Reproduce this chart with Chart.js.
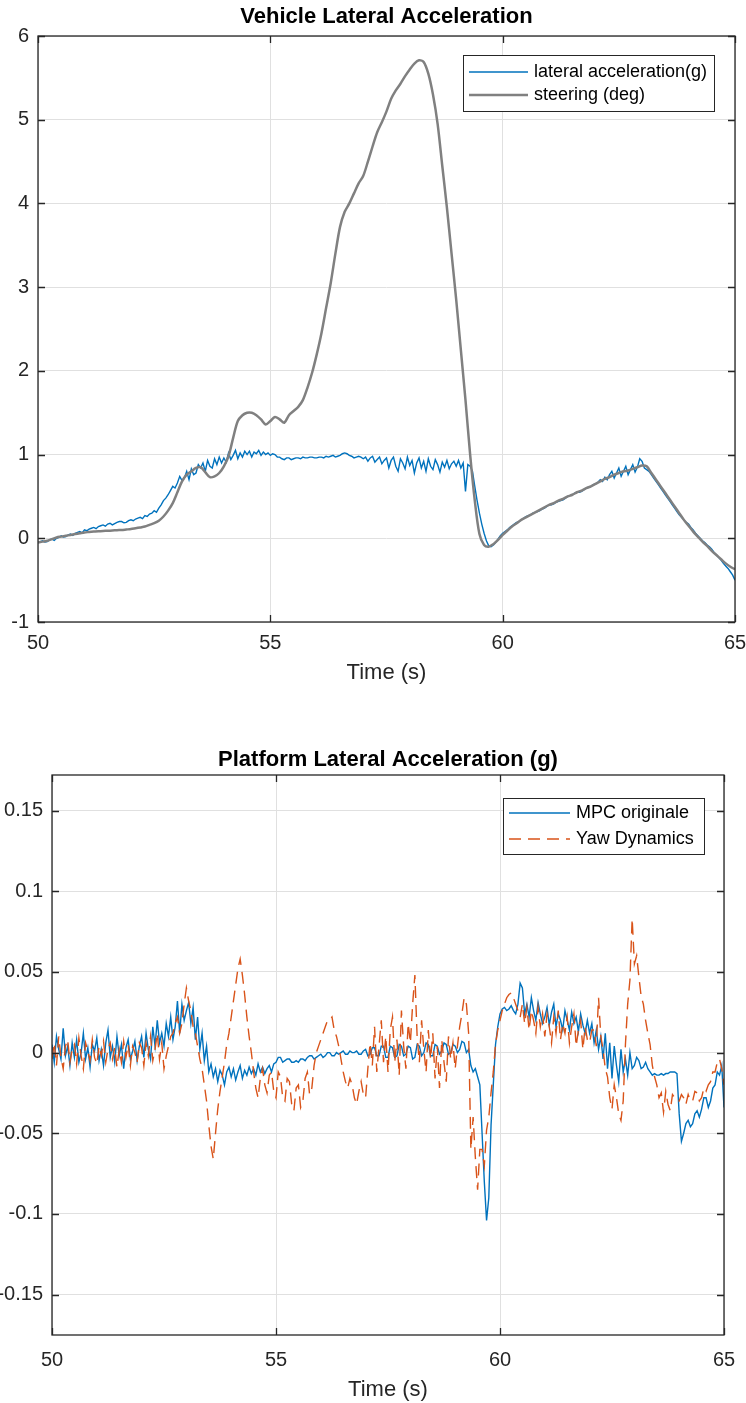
<!DOCTYPE html>
<html>
<head>
<meta charset="utf-8">
<script src="https://cdn.jsdelivr.net/npm/chart.js@4.4.1/dist/chart.umd.min.js"></script>
<style>
  body { margin: 0; background: #fff; }
  #cajaArriba { position: absolute; left: 0; top: 0; width: 746px; height: 700px; }
  #cajaAbajo { position: absolute; left: 0; top: 700px; width: 746px; height: 703px; }
</style>
</head>
<body>
<div id="cajaArriba"><canvas id="graficoArriba" width="746" height="700"></canvas></div>
<div id="cajaAbajo"><canvas id="graficoAbajo" width="746" height="703"></canvas></div>
<script>
// muestreo: las senales con ruido van cada 0.05 s, el volante cada 0.1 s (t = 50 .. 65 s)
const tIni = 50;
const pasoRuido = 0.05;
const pasoVolante = 0.1;

const ticksTiempo = [50, 55, 60, 65];
const ticksArriba = [-1, 0, 1, 2, 3, 4, 5, 6];
const ticksAbajo = [-0.15, -0.1, -0.05, 0, 0.05, 0.1, 0.15];

// grafico de arriba: aceleracion lateral del vehiculo (g), una fila = 0.5 s
const aceleracionLateral = [
  -0.05, -0.04, -0.03, -0.045, -0.04, -0.02, -0.01, -0.025, 0.0, 0.01,
  0.03, 0.015, 0.02, 0.04, 0.05, 0.035, 0.06, 0.07, 0.08, 0.065,
  0.1, 0.09, 0.11, 0.12, 0.13, 0.115, 0.14, 0.15, 0.16, 0.145,
  0.17, 0.18, 0.16, 0.175, 0.19, 0.2, 0.2, 0.185, 0.19, 0.21,
  0.22, 0.21, 0.23, 0.24, 0.25, 0.235, 0.27, 0.26, 0.29, 0.3,
  0.33, 0.31, 0.36, 0.4, 0.45, 0.48, 0.52, 0.57, 0.62, 0.6,
  0.66, 0.74, 0.69, 0.72, 0.8, 0.7, 0.83, 0.76, 0.78, 0.88,
  0.84, 0.9, 0.8, 0.93, 0.86, 0.84, 0.95, 0.88, 0.97, 0.9,
  0.96, 0.91, 1.02, 0.94, 0.99, 1.05, 0.95, 1.02, 0.97, 1.04,
  1.0, 1.04, 0.97, 1.03, 1.01, 1.05, 0.99, 1.03, 1.0, 1.02,
  0.99, 1.01, 1.0, 0.97, 0.97, 0.95, 0.94, 0.96, 0.96, 0.94,
  0.95, 0.96, 0.96, 0.95, 0.97, 0.96, 0.96, 0.97, 0.97, 0.96,
  0.96, 0.97, 0.97, 0.96, 0.98, 0.97, 0.98, 0.99, 0.97, 0.98,
  0.99, 1.01, 1.02, 1.01, 0.99, 0.98, 0.96, 0.97, 0.98, 0.97,
  0.95, 0.97, 0.92, 0.96, 0.98, 0.91, 0.94, 0.97, 0.89, 0.93,
  0.96, 0.84, 0.93, 0.97, 0.86, 0.8, 0.95, 0.9, 0.83, 0.97,
  0.87, 0.93, 0.78, 0.9, 0.96, 0.84, 0.92, 0.8, 0.95, 0.86,
  0.82, 0.94, 0.88, 0.79, 0.91, 0.85, 0.93, 0.83, 0.89, 0.92,
  0.86, 0.93, 0.84, 0.9, 0.56, 0.88, 0.86, 0.8, 0.62, 0.45,
  0.3, 0.17, 0.06, -0.03, -0.09, -0.1, -0.08, -0.05, -0.01, 0.03,
  0.06, 0.08, 0.1, 0.13, 0.15, 0.17, 0.19, 0.2, 0.22, 0.24,
  0.26, 0.27, 0.28, 0.3, 0.31, 0.32, 0.33, 0.35, 0.36, 0.38,
  0.4, 0.4, 0.41, 0.43, 0.44, 0.45, 0.46, 0.48, 0.5, 0.51,
  0.52, 0.54, 0.55, 0.55, 0.56, 0.58, 0.6, 0.61, 0.62, 0.64,
  0.65, 0.67, 0.7, 0.68, 0.73, 0.7, 0.76, 0.8, 0.72, 0.78,
  0.84, 0.74, 0.8, 0.86, 0.76, 0.82, 0.88, 0.79, 0.85, 0.95,
  0.92, 0.84, 0.82, 0.8, 0.76, 0.72, 0.68, 0.64, 0.6, 0.56,
  0.52, 0.48, 0.44, 0.4, 0.36, 0.32, 0.28, 0.25, 0.22, 0.19,
  0.17, 0.13, 0.1, 0.06, 0.03, 0.0, -0.03, -0.05, -0.08, -0.1,
  -0.13, -0.17, -0.2, -0.23, -0.26, -0.3, -0.33, -0.36, -0.4, -0.44,
  -0.5
];

// volante (deg), una fila = 1 s
const volante = [
  -0.05, -0.04, -0.03, -0.01, 0.01, 0.02, 0.03, 0.04, 0.05, 0.06,
  0.07, 0.075, 0.08, 0.085, 0.088, 0.09, 0.093, 0.097, 0.1, 0.105,
  0.11, 0.12, 0.13, 0.14, 0.16, 0.18, 0.21, 0.26, 0.33, 0.42,
  0.55, 0.68, 0.76, 0.8, 0.84, 0.85, 0.79, 0.73, 0.74, 0.78,
  0.86, 0.98, 1.2, 1.4, 1.47, 1.5, 1.5, 1.47, 1.42, 1.36,
  1.4, 1.45, 1.42, 1.38, 1.47, 1.52, 1.57, 1.65, 1.8, 1.98,
  2.2, 2.45, 2.75, 3.05, 3.4, 3.72, 3.9, 4.0, 4.12, 4.24,
  4.33, 4.5, 4.68, 4.85, 4.97, 5.1, 5.25, 5.35, 5.43, 5.52,
  5.6, 5.67, 5.71, 5.69, 5.55, 5.3, 4.95, 4.45, 3.95, 3.4,
  2.85, 2.25, 1.65, 1.0, 0.45, 0.05, -0.08, -0.1, -0.07, -0.02,
  0.04, 0.09, 0.14, 0.18, 0.22, 0.25, 0.28, 0.31, 0.34, 0.37,
  0.4, 0.42, 0.45, 0.47, 0.5, 0.52, 0.55, 0.57, 0.6, 0.62,
  0.65, 0.68, 0.71, 0.73, 0.76, 0.78, 0.8, 0.81, 0.83, 0.85,
  0.87, 0.86, 0.78, 0.7, 0.62, 0.54, 0.46, 0.38, 0.3, 0.22,
  0.15, 0.08, 0.02, -0.04, -0.09, -0.15, -0.2, -0.25, -0.3, -0.34,
  -0.37
];

// grafico de abajo: aceleracion lateral de la plataforma (g), una fila = 0.5 s
const mpcOriginale = [
  0.005, -0.006, 0.01, 0.002, -0.004, 0.015, -0.002, 0.004, -0.008, 0.006,
  -0.003, 0.008, -0.006, 0.0, 0.012, -0.004, 0.003, -0.009, 0.005, 0.001,
  0.009, -0.005, 0.002, -0.008, 0.006, 0.014, -0.003, 0.004, -0.006, 0.01,
  -0.002, 0.005, -0.01, 0.003, 0.008, -0.004, 0.001, 0.007, -0.005, 0.004,
  0.01, -0.003, 0.012, 0.002, -0.004, 0.016, 0.004, 0.02, 0.006, 0.012,
  0.004, 0.018, 0.01, 0.022, 0.008, 0.016, 0.032, 0.012, 0.03, 0.02,
  0.026, 0.031, 0.018, 0.028, 0.008, 0.022, 0.002, 0.012, -0.005, 0.004,
  -0.012, -0.007, -0.015, -0.01, -0.018, -0.011, -0.014, -0.02, -0.012, -0.009,
  -0.015, -0.01, -0.017, -0.012, -0.008, -0.016, -0.011, -0.014, -0.009, -0.013,
  -0.01, -0.014, -0.007, -0.012, -0.009, -0.013, -0.01, -0.008, -0.012, -0.007,
  -0.006, -0.003, -0.003, -0.006, -0.005, -0.004, -0.004, -0.006, -0.006, -0.005,
  -0.006, -0.004, -0.004, -0.005, -0.003, -0.002, -0.002, -0.004, -0.003, -0.002,
  -0.001, -0.003, -0.002, 0.0, 0.0, -0.002, -0.002, 0.0, -0.001, 0.0,
  0.001, -0.001, -0.001, 0.001, 0.0, 0.0, 0.001, -0.001, -0.001, 0.001,
  0.002, -0.002, -0.001, 0.003, 0.003, -0.002, -0.002, 0.004, 0.004, -0.003,
  -0.003, 0.004, 0.003, -0.003, -0.002, 0.005, 0.004, -0.002, -0.001, 0.004,
  0.003, -0.004, -0.003, 0.005, 0.004, -0.002, 0.0, 0.006, 0.005, -0.002,
  -0.002, 0.005, 0.004, -0.001, 0.001, 0.006, 0.005, -0.001, 0.0, 0.005,
  0.004, 0.0, 0.002, 0.007, 0.006, 0.0, 0.002, -0.008, -0.012, -0.01,
  -0.015, -0.02, -0.05, -0.08, -0.104, -0.09, -0.045, -0.02, 0.005, 0.016,
  0.024, 0.027, 0.028, 0.026, 0.027, 0.029, 0.026, 0.024, 0.03, 0.043,
  0.04, 0.024, 0.03, 0.022, 0.034, 0.026, 0.02, 0.031, 0.024, 0.018,
  0.022, 0.028, 0.017, 0.025, 0.03, 0.016, 0.024, 0.02, 0.014, 0.026,
  0.02, 0.014, 0.025, 0.018, 0.022, 0.013, 0.024, 0.017, 0.012, 0.02,
  0.012, 0.018, 0.006, 0.014, 0.002, 0.01, -0.004, 0.012, -0.01, 0.006,
  -0.016, 0.004, -0.008, -0.018, 0.002, -0.012, -0.004, -0.014, 0.0, -0.01,
  -0.008, -0.003, -0.005, -0.01, -0.009, -0.006, -0.01, -0.012, -0.014, -0.013,
  -0.014, -0.014, -0.013, -0.014, -0.013, -0.013, -0.012, -0.012, -0.012, -0.013,
  -0.038, -0.055, -0.05, -0.044, -0.042, -0.046, -0.044, -0.038, -0.036, -0.04,
  -0.035, -0.028, -0.028, -0.034, -0.03, -0.022, -0.02, -0.012, -0.014, -0.008,
  -0.034
];

const yawDynamics = [
  -0.004, 0.006, -0.008, 0.01, -0.003, -0.01, 0.004, 0.008, -0.006, 0.002,
  0.005, -0.007, 0.009, -0.002, -0.01, 0.006, 0.001, -0.005, 0.008, -0.003,
  -0.007, 0.004, -0.002, 0.007, -0.006, 0.002, 0.006, -0.004, 0.003, -0.009,
  0.002, -0.006, 0.007, -0.003, 0.005, -0.008, 0.004, 0.0, -0.006, 0.006,
  0.003, -0.008, 0.006, -0.002, 0.01, -0.005, 0.002, 0.012, -0.004, 0.006,
  -0.01, -0.002, 0.004, 0.01, 0.012, 0.018, 0.022, 0.012, 0.018, 0.03,
  0.04, 0.032, 0.026, 0.016, 0.012, 0.004, -0.004, -0.01, -0.02, -0.03,
  -0.045, -0.058, -0.066, -0.05, -0.035, -0.024, -0.015, -0.006, 0.005, 0.012,
  0.022, 0.032, 0.042, 0.052, 0.058, 0.048, 0.036, 0.022, 0.01, 0.0,
  -0.012, -0.022, -0.028, -0.016, -0.01, -0.02, -0.025, -0.014, -0.012, -0.024,
  -0.028, -0.012, -0.015, -0.028, -0.03, -0.016, -0.018, -0.032, -0.036, -0.022,
  -0.02, -0.034, -0.03, -0.016, -0.012, -0.026, -0.022, -0.008, 0.0, 0.004,
  0.008, 0.012, 0.016, 0.02, 0.02, 0.022, 0.014, 0.01, 0.004, -0.004,
  -0.012, -0.018, -0.022, -0.016, -0.02, -0.028, -0.032, -0.024, -0.018, -0.026,
  -0.028, -0.01, 0.006, -0.008, 0.016, -0.012, 0.004, 0.02, -0.006, 0.01,
  -0.012, 0.014, 0.022, -0.006, 0.008, -0.014, 0.026, 0.004, -0.01, 0.018,
  0.006, 0.03, 0.048, 0.01, -0.006, 0.02, 0.002, -0.012, 0.014, -0.004,
  0.012, -0.016, 0.004, -0.022, 0.008, -0.006, -0.018, 0.01, -0.004, 0.006,
  -0.01, 0.004, 0.016, 0.024, 0.034, 0.03, 0.012, -0.06, -0.04, -0.065,
  -0.085, -0.06, -0.06, -0.07, -0.048, -0.04, -0.025, -0.012, 0.005, 0.014,
  0.02, 0.026, 0.03, 0.034, 0.036, 0.037, 0.034, 0.03, 0.026, 0.022,
  0.03, 0.018, 0.028, 0.014, 0.026, 0.02, 0.012, 0.028, 0.016, 0.024,
  0.01, 0.024, 0.016, 0.006, 0.022, 0.012, 0.026, 0.008, 0.018, 0.012,
  0.022, 0.006, 0.016, 0.024, 0.004, 0.014, 0.02, 0.002, 0.016, 0.008,
  0.006, 0.014, 0.014, 0.004, 0.034, 0.01, 0.002, -0.01, -0.015, -0.028,
  -0.035, -0.02, -0.028, -0.038, -0.042, -0.03, 0.005, 0.03, 0.045, 0.083,
  0.055, 0.06, 0.047, 0.035, 0.03, 0.02, 0.012, 0.005, -0.008, -0.015,
  -0.02, -0.028, -0.025, -0.037, -0.024, -0.032, -0.036, -0.026, -0.028, -0.03,
  -0.03, -0.026, -0.028, -0.032, -0.026, -0.03, -0.03, -0.024, -0.025, -0.03,
  -0.028, -0.022, -0.024, -0.02, -0.018, -0.012, -0.012, -0.006, -0.004, -0.01,
  -0.02
];

const colorEjes = '#262626';
const colorGrid = '#e0e0e0';
const fuente = '"Liberation Sans", Arial, Helvetica, sans-serif';

Chart.defaults.font.family = fuente;
Chart.defaults.color = colorEjes;

const aPuntos = (serie, paso) => serie.map((v, i) => ({ x: +(tIni + i * paso).toFixed(2), y: v }));

// caja estilo matlab + titulo + leyenda dentro del area
function pluginMatlab(titulo, tituloY, ley) {
  return {
    id: 'estiloMatlab',
    afterDraw(chart) {
      const { ctx, chartArea: a, scales } = chart;
      ctx.save();
      ctx.strokeStyle = colorEjes;
      ctx.lineWidth = 1.3;
      ctx.strokeRect(a.left, a.top, a.right - a.left, a.bottom - a.top);
      ctx.beginPath();
      scales.x.ticks.forEach(t => {
        const px = Math.round(scales.x.getPixelForValue(t.value)) + 0.5;
        ctx.moveTo(px, a.bottom); ctx.lineTo(px, a.bottom - 7);
        ctx.moveTo(px, a.top); ctx.lineTo(px, a.top + 7);
      });
      scales.y.ticks.forEach(t => {
        const py = Math.round(scales.y.getPixelForValue(t.value)) + 0.5;
        ctx.moveTo(a.left, py); ctx.lineTo(a.left + 7, py);
        ctx.moveTo(a.right, py); ctx.lineTo(a.right - 7, py);
      });
      ctx.stroke();

      // titulo
      ctx.fillStyle = '#000';
      ctx.font = 'bold 22px ' + fuente;
      ctx.textAlign = 'center';
      ctx.textBaseline = 'middle';
      ctx.fillText(titulo, (a.left + a.right) / 2, tituloY);

      // leyenda
      const bx = a.right - ley.derecha - ley.ancho;
      const by = a.top + ley.arriba;
      ctx.fillStyle = '#fff';
      ctx.fillRect(bx, by, ley.ancho, ley.alto);
      ctx.strokeStyle = colorEjes;
      ctx.lineWidth = 1;
      ctx.strokeRect(bx + 0.5, by + 0.5, ley.ancho, ley.alto);
      ctx.font = '18px ' + fuente;
      ctx.textAlign = 'left';
      chart.data.datasets.forEach((ds, i) => {
        const yy = by + ley.filas[i];
        ctx.beginPath();
        ctx.strokeStyle = ds.borderColor;
        ctx.lineWidth = ds.borderWidth;
        ctx.setLineDash(ds.borderDash || []);
        ctx.moveTo(bx + 6, yy);
        ctx.lineTo(bx + ley.linea, yy);
        ctx.stroke();
        ctx.setLineDash([]);
        ctx.fillStyle = '#000';
        ctx.fillText(ds.label, bx + ley.texto, yy);
      });
      ctx.restore();
    }
  };
}

function ejes(ticksY, yMin, yMax, c) {
  return {
    x: {
      type: 'linear', min: 50, max: 65,
      afterBuildTicks: s => { s.ticks = ticksTiempo.map(v => ({ value: v })); },
      afterFit: s => { s.height = c.altoX; s.paddingLeft = 0; s.paddingRight = 0; },
      grid: { color: colorGrid, lineWidth: 1, drawTicks: false },
      border: { display: false },
      ticks: { padding: c.padX, font: { size: 20 }, color: colorEjes, maxRotation: 0, autoSkip: false,
               callback: v => String(v) },
      title: { display: true, text: 'Time (s)', font: { size: 22 }, color: colorEjes,
               padding: { top: 0, bottom: c.padTitulo } }
    },
    y: {
      type: 'linear', min: yMin, max: yMax,
      afterBuildTicks: s => { s.ticks = ticksY.map(v => ({ value: v })); },
      afterFit: s => { s.width = c.anchoY; s.paddingTop = 0; s.paddingBottom = 0; },
      grid: { color: colorGrid, lineWidth: 1, drawTicks: false },
      border: { display: false },
      ticks: { padding: 9, font: { size: 20 }, color: colorEjes, autoSkip: false,
               callback: v => String(v) }
    }
  };
}

new Chart(document.getElementById('graficoArriba'), {
  type: 'line',
  data: {
    datasets: [
      { label: 'lateral acceleration(g)', data: aPuntos(aceleracionLateral, pasoRuido), borderColor: '#0072BD',
        borderWidth: 1.4, pointRadius: 0, tension: 0, order: 1 },
      { label: 'steering (deg)', data: aPuntos(volante, pasoVolante), borderColor: '#808080',
        borderWidth: 2.5, pointRadius: 0, tension: 0.3, order: 0 }
    ]
  },
  options: {
    responsive: false,
    animation: false,
    layout: { padding: { top: 36, right: 11, left: 0, bottom: 0 } },
    plugins: { legend: { display: false }, tooltip: { enabled: false } },
    scales: ejes(ticksArriba, -1, 6, { altoX: 78, padX: 9, padTitulo: 14, anchoY: 38 })
  },
  plugins: [pluginMatlab('Vehicle Lateral Acceleration', 17,
    { ancho: 251, alto: 56, derecha: 21, arriba: 19, filas: [17, 40], linea: 65, texto: 71 })]
});

new Chart(document.getElementById('graficoAbajo'), {
  type: 'line',
  data: {
    datasets: [
      { label: 'MPC originale', data: aPuntos(mpcOriginale, pasoRuido), borderColor: '#0072BD',
        borderWidth: 1.4, pointRadius: 0, tension: 0, order: 1 },
      { label: 'Yaw Dynamics', data: aPuntos(yawDynamics, pasoRuido), borderColor: '#D95319',
        borderWidth: 1.4, borderDash: [12, 7], pointRadius: 0, tension: 0, order: 0 }
    ]
  },
  options: {
    responsive: false,
    animation: false,
    layout: { padding: { top: 75, right: 22, left: 0, bottom: 0 } },
    plugins: { legend: { display: false }, tooltip: { enabled: false } },
    scales: ejes(ticksAbajo, -0.175, 0.172, { altoX: 68, padX: 13, padTitulo: 0, anchoY: 52 })
  },
  plugins: [pluginMatlab('Platform Lateral Acceleration (g)', 60,
    { ancho: 201, alto: 56, derecha: 20, arriba: 23, filas: [15, 41], linea: 67, texto: 73 })]
});
</script>
</body>
</html>
